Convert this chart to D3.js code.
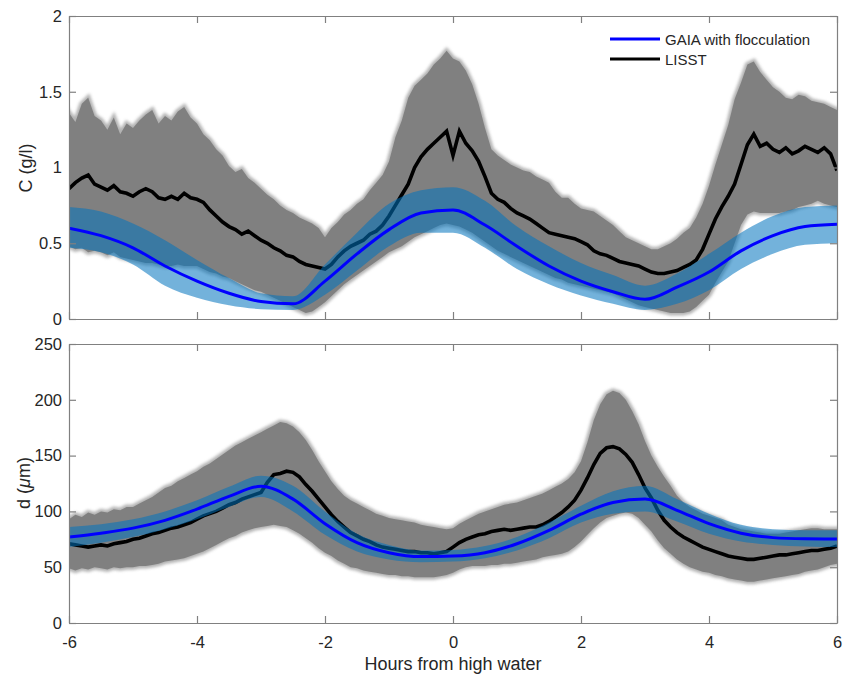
<!DOCTYPE html>
<html><head><meta charset="utf-8">
<script src="https://cdn.jsdelivr.net/npm/d3@7"></script>
<style>
body{margin:0;background:#fff;}
text{font-family:"Liberation Sans",Arial,Helvetica,sans-serif;fill:#262626;}
</style></head>
<body><svg id="c" width="851" height="676"></svg>
<script>
// sampling grids (hours from high water)
const hoursFine = d3.range(121).map(i => +(-6 + i * 0.1).toFixed(1));
const hoursCoarse = d3.range(25).map(i => -6 + i * 0.5);
const xTicks = [-6, -4, -2, 0, 2, 4, 6];
const cTicks = [0, 0.5, 1, 1.5, 2];
const dTicks = [0, 50, 100, 150, 200, 250];
const legendLabels = ["GAIA with flocculation", "LISST"];

// ---- Top panel: concentration C (g/l) ----
const cLisstUpper = [1.36,1.30,1.42,1.46,1.34,1.31,1.25,1.33,1.22,1.29,1.26,1.31,1.35,1.38,1.29,1.34,1.31,1.37,1.40,1.33,1.29,1.22,1.18,1.12,1.08,1.01,0.97,0.99,0.93,0.90,0.86,0.82,0.79,0.75,0.72,0.70,0.67,0.65,0.63,0.60,0.54,0.60,0.64,0.69,0.72,0.76,0.79,0.85,0.90,0.95,1.04,1.20,1.31,1.46,1.54,1.58,1.62,1.68,1.72,1.77,1.72,1.70,1.64,1.55,1.42,1.26,1.12,1.08,1.05,1.02,1.00,0.98,0.97,0.94,0.92,0.90,0.84,0.80,0.80,0.76,0.73,0.72,0.71,0.68,0.65,0.62,0.58,0.54,0.52,0.50,0.48,0.46,0.46,0.48,0.50,0.53,0.57,0.60,0.67,0.76,0.88,1.02,1.15,1.28,1.45,1.56,1.68,1.70,1.63,1.58,1.53,1.50,1.46,1.45,1.48,1.47,1.44,1.43,1.42,1.40,1.38];
const cLisstLower = [0.48,0.46,0.47,0.44,0.45,0.44,0.42,0.44,0.41,0.40,0.39,0.38,0.37,0.37,0.36,0.35,0.35,0.36,0.35,0.35,0.35,0.33,0.31,0.30,0.28,0.27,0.25,0.23,0.21,0.19,0.18,0.16,0.14,0.12,0.10,0.08,0.06,0.04,0.05,0.08,0.11,0.15,0.19,0.23,0.26,0.29,0.32,0.35,0.38,0.41,0.44,0.46,0.48,0.51,0.54,0.56,0.58,0.60,0.62,0.63,0.62,0.61,0.59,0.57,0.54,0.51,0.48,0.45,0.43,0.41,0.39,0.37,0.35,0.33,0.31,0.29,0.27,0.26,0.24,0.23,0.22,0.21,0.20,0.19,0.18,0.17,0.15,0.13,0.11,0.09,0.08,0.07,0.06,0.05,0.04,0.04,0.04,0.05,0.08,0.12,0.16,0.24,0.31,0.38,0.50,0.62,0.69,0.71,0.70,0.70,0.70,0.70,0.71,0.72,0.74,0.75,0.76,0.78,0.76,0.75,0.74];
const cLisst = [0.86,0.90,0.93,0.95,0.89,0.87,0.85,0.88,0.84,0.83,0.81,0.84,0.86,0.84,0.80,0.79,0.81,0.79,0.83,0.80,0.79,0.77,0.72,0.68,0.64,0.61,0.59,0.56,0.58,0.55,0.52,0.50,0.47,0.45,0.42,0.41,0.38,0.36,0.35,0.34,0.33,0.36,0.41,0.45,0.48,0.50,0.52,0.56,0.58,0.62,0.68,0.75,0.82,0.89,1.00,1.07,1.12,1.16,1.20,1.24,1.08,1.24,1.16,1.11,1.04,0.94,0.83,0.79,0.77,0.73,0.70,0.68,0.66,0.63,0.60,0.57,0.56,0.55,0.54,0.53,0.51,0.49,0.45,0.43,0.42,0.40,0.38,0.37,0.36,0.35,0.33,0.31,0.30,0.30,0.31,0.32,0.34,0.36,0.39,0.46,0.56,0.66,0.74,0.81,0.89,1.02,1.15,1.22,1.14,1.16,1.12,1.10,1.13,1.09,1.11,1.14,1.12,1.10,1.13,1.09,0.98];
const cGaia = [0.60,0.55,0.47,0.35,0.25,0.17,0.115,0.10,0.25,0.43,0.59,0.70,0.72,0.62,0.48,0.35,0.25,0.18,0.13,0.21,0.31,0.45,0.55,0.61,0.625];
const cGaiaUpper = [0.74,0.71,0.63,0.52,0.39,0.27,0.17,0.15,0.36,0.57,0.76,0.85,0.87,0.78,0.61,0.48,0.37,0.29,0.22,0.30,0.43,0.57,0.68,0.74,0.75];
const cGaiaLower = [0.47,0.44,0.36,0.22,0.14,0.09,0.065,0.06,0.16,0.32,0.48,0.57,0.57,0.47,0.33,0.23,0.155,0.10,0.06,0.10,0.19,0.33,0.43,0.49,0.50];

// ---- Bottom panel: floc size d (µm) ----
const dLisstUpper = [93,97,95,99,97,100,99,102,101,104,104,107,110,113,117,121,123,127,130,133,136,140,143,147,151,155,159,162,165,168,171,174,177,180,179,176,171,164,155,145,136,127,120,114,110,107,104,101,98,96,94,93,92,91,90,88,87,86,85,84,85,89,92,95,98,100,102,104,106,107,108,110,112,114,116,119,122,125,129,135,145,162,182,196,205,208,206,200,190,178,163,150,140,131,123,114,108,104,101,98,96,94,92,88,86,84,83,82,81,80,80,80,81,82,83,84,85,85,84,84,84];
const dLisstLower = [49,47,49,48,50,49,48,50,49,50,50,51,51,52,53,55,56,57,58,60,62,64,67,70,73,76,78,81,83,85,86,87,88,87,86,83,80,76,72,67,63,60,56,53,50,49,47,46,45,44,43,43,42,42,41,41,41,41,42,43,45,48,50,51,51,51,52,52,53,53,54,55,56,57,59,60,61,62,64,68,73,79,85,90,94,96,98,99,98,94,88,82,74,67,62,57,53,50,48,46,45,43,42,40,39,38,37,37,38,39,40,41,42,43,44,46,47,48,50,52,53];
const dLisst = [71,70,69,68,69,70,69,71,72,73,75,76,78,80,81,83,85,86,88,90,93,96,98,100,103,106,108,111,113,115,117,126,133,134,136,135,131,124,118,111,104,97,91,86,81,78,75,73,70,68,67,66,65,64,64,63,63,62,63,64,68,72,75,77,79,80,82,83,84,83,84,85,86,86,88,91,95,99,104,110,119,130,142,152,157,158,156,151,144,133,121,112,101,92,86,81,77,74,71,68,66,64,62,60,59,58,57,57,58,59,60,61,61,62,63,64,65,65,66,67,69];
const dGaia = [77,80.5,85,92,102,113.5,122.5,111,89,72,63,59.5,60,63,71,83,97.5,108,111,101,89,80.5,76.5,75.5,75.3];
const dGaiaUpper = [86,88.5,93,100,110,122,132,123,100,80,70,65,65.5,69,77,90,105,118,123,111,98,88,84,83,83];
const dGaiaLower = [68,72,77,84,93,104,113,100,79,64,57,54.5,55,58,65,76,90,98,100,91,80,73,70,68.5,68];

const svg = d3.select("#c");
const X0 = 69, X1 = 837;
const x = d3.scaleLinear().domain([-6, 6]).range([X0, X1]);
const axisColor = "#808080";
const FONT = '"Liberation Sans",Arial,Helvetica,sans-serif';

const defs = svg.append("defs");
defs.append("filter").attr("id", "soft").attr("x", "-5%").attr("y", "-20%").attr("width", "110%").attr("height", "140%")
  .append("feGaussianBlur").attr("stdDeviation", 1.6);

function panel(opt) {
  const y = d3.scaleLinear().domain(opt.domain).range([opt.bottom, opt.top]);
  const g = svg.append("g");
  const clipId = "clip" + opt.id;
  defs.append("clipPath").attr("id", clipId).append("rect")
    .attr("x", X0).attr("y", opt.top).attr("width", X1 - X0).attr("height", opt.bottom - opt.top);
  const p = g.append("g").attr("clip-path", `url(#${clipId})`);

  const grayArea = d3.area().x((d, i) => x(hoursFine[i])).y0((d, i) => y(opt.lower[i])).y1(d => y(d));
  // soft halo imitating the fuzzy, spiky spread of the LISST record
  p.append("path").datum(opt.upper).attr("d", grayArea)
    .attr("fill", "#8a8a8a").attr("stroke", "#9a9a9a").attr("stroke-width", 5)
    .attr("opacity", 0.75).attr("filter", "url(#soft)");
  p.append("path").datum(opt.upper).attr("d", grayArea)
    .attr("fill", "#808080");

  const blk = d3.line().x((d, i) => x(hoursFine[i])).y(d => y(d));
  p.append("path").datum(opt.lisst).attr("d", blk)
    .attr("fill", "none").attr("stroke", "#000").attr("stroke-width", 3.6).attr("stroke-linejoin", "miter");

  const band = d3.area().x((d, i) => x(hoursCoarse[i])).y0((d, i) => y(opt.gLower[i])).y1(d => y(d)).curve(d3.curveMonotoneX);
  p.append("path").datum(opt.gUpper).attr("d", band)
    .attr("fill", "#0072bd").attr("fill-opacity", 0.55);

  const bl = d3.line().x((d, i) => x(hoursCoarse[i])).y(d => y(d)).curve(d3.curveMonotoneX);
  p.append("path").datum(opt.gaia).attr("d", bl)
    .attr("fill", "none").attr("stroke", "#0000ff").attr("stroke-width", 3);

  // axes (MATLAB style: inward ticks, box)
  const ax = g.append("g");
  const bottomAxis = d3.axisBottom(x).tickValues(xTicks).tickSizeInner(-7).tickSizeOuter(0).tickPadding(13)
    .tickFormat(opt.xLabels ? (d => String(d)) : "");
  const topAxis = d3.axisTop(x).tickValues(xTicks).tickSizeInner(-7).tickSizeOuter(0).tickFormat("");
  const leftAxis = d3.axisLeft(y).tickValues(opt.ticks).tickSizeInner(-7).tickSizeOuter(0).tickPadding(7).tickFormat(d => String(d));
  const rightAxis = d3.axisRight(y).tickValues(opt.ticks).tickSizeInner(-7).tickSizeOuter(0).tickFormat("");
  const gb = ax.append("g").attr("transform", `translate(0,${opt.bottom})`).call(bottomAxis);
  const gt = ax.append("g").attr("transform", `translate(0,${opt.top})`).call(topAxis);
  const gl = ax.append("g").attr("transform", `translate(${X0},0)`).call(leftAxis);
  const gr = ax.append("g").attr("transform", `translate(${X1},0)`).call(rightAxis);
  [gb, gt, gl, gr].forEach(s => {
    s.select(".domain").attr("stroke", axisColor).attr("stroke-width", 1.2);
    s.selectAll(".tick line").attr("stroke", axisColor).attr("stroke-width", 1.2);
    s.selectAll(".tick text").attr("font-size", 16.5).attr("fill", "#262626").attr("font-family", FONT);
  });
  return { y, g };
}

const topPanel = panel({ id: "t", domain: [0, 2], top: 16, bottom: 319, ticks: cTicks, xLabels: false,
  upper: cLisstUpper, lower: cLisstLower, lisst: cLisst, gaia: cGaia, gUpper: cGaiaUpper, gLower: cGaiaLower });
const botPanel = panel({ id: "b", domain: [0, 250], top: 344, bottom: 623, ticks: dTicks, xLabels: true,
  upper: dLisstUpper, lower: dLisstLower, lisst: dLisst, gaia: dGaia, gUpper: dGaiaUpper, gLower: dGaiaLower });

// y labels
svg.append("text").attr("transform", "translate(32,168) rotate(-90)")
  .attr("text-anchor", "middle").attr("font-size", 18).text("C (g/l)");
const dl = svg.append("text").attr("transform", "translate(30,483) rotate(-90)")
  .attr("text-anchor", "middle").attr("font-size", 18);
dl.append("tspan").text("d (");
dl.append("tspan").attr("font-style", "italic").text("\u03BC");
dl.append("tspan").text("m)");

// x label
svg.append("text").attr("x", 453).attr("y", 670).attr("text-anchor", "middle")
  .attr("font-size", 18).text("Hours from high water");

// legend
const leg = svg.append("g");
const legColors = ["#0000ff", "#000"];
legendLabels.forEach((lab, i) => {
  const yy = 39 + i * 20;
  leg.append("line").attr("x1", 610).attr("x2", 660).attr("y1", yy).attr("y2", yy)
    .attr("stroke", legColors[i]).attr("stroke-width", 3);
  leg.append("text").attr("x", 665).attr("y", yy + 5.5).attr("font-size", 15).text(lab);
});
</script></body></html>
